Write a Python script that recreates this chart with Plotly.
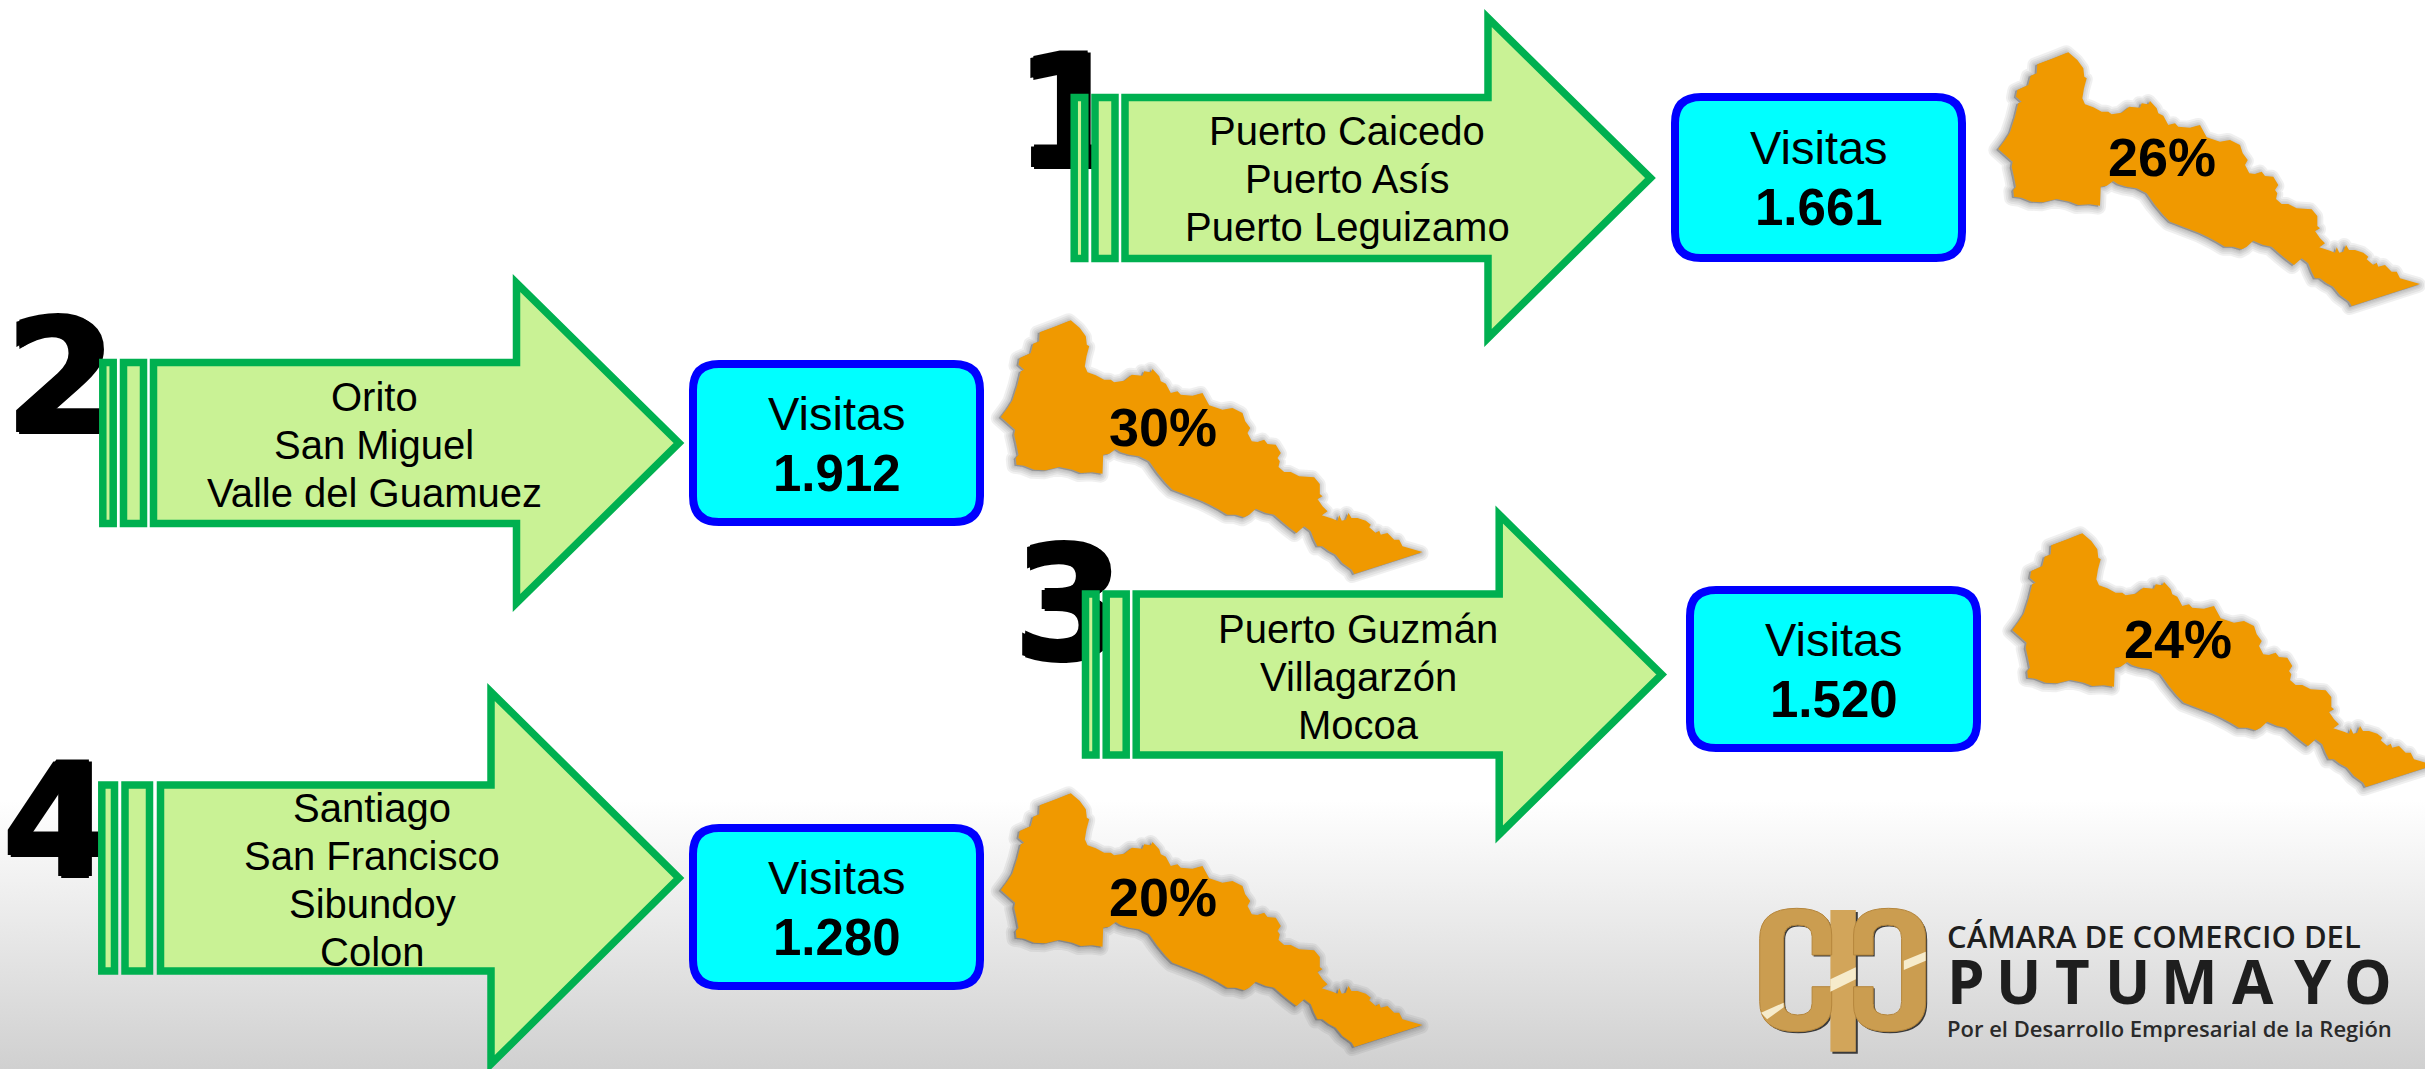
import plotly.graph_objects as go

# ---------- data ----------
ranks = ["1", "2", "3", "4"]
municipios = [
    ["Puerto Caicedo", "Puerto Asís", "Puerto Leguizamo"],
    ["Orito", "San Miguel", "Valle del Guamuez"],
    ["Puerto Guzmán", "Villagarzón", "Mocoa"],
    ["Santiago", "San Francisco", "Sibundoy", "Colon"],
]
visitas = [1661, 1912, 1520, 1280]
porcentajes = [26, 30, 24, 20]
logo_line1 = "CÁMARA DE COMERCIO DEL"
logo_word = "PUTUMAYO"
logo_line3 = "Por el Desarrollo Empresarial de la Región"

# ---------- layout of the diagram (pixels) ----------
W, H = 2425, 1069
GREEN, LIGHT, BLUE, CYAN, ORANGE = "#00B050", "#C9F295", "#0000FF", "#00FFFF", "#F09900"
FONT = "Liberation Sans"

# x0, mid y, shaft half, head half, neck offset, tip offset, strip1, strip2, body
ARROWS = [
    (1070.5, 178, 80.5, 160, 417.5, 580, (3.75, 14.25), (24.5, 44.5), 54.5),
    (99, 443, 80.5, 160, 417.5, 580, (3.75, 14.25), (24.5, 44.5), 54.5),
    (1081.7, 674.5, 80.5, 160, 417.5, 580, (3.75, 14.25), (24.5, 44.5), 54.5),
    (98, 878, 93, 186, 393, 581, (3.75, 16.5), (27, 51.5), 62.5),
]
ARROW_TEXT_X = [1347, 374, 1358, 372]
ARROW_TEXT_Y0 = [131, 397, 629, 808]
BOXES = [(1675, 97, 1962, 258), (693, 364, 980, 522), (1690, 590, 1977, 748), (693, 828, 980, 986)]
MAP_OFFSETS = [(0, 0), (-997.5, 268), (14, 481), (-997.5, 741)]
PCT_POS = [(2162, 157), (1163, 427), (2178, 639), (1163, 897)]
DIGIT_POS = [(1070, 128), (61, 393), (1069, 620), (58, 837)]

# outline of the department silhouette
outline_head = [(235,22),(262,45),(280,70),(283,95),(290,100),(282,130),(277,160),(285,178),(310,187),(335,200),
    (355,200),(365,208),(395,203),(418,185),(450,188),(455,175),(475,178),(480,168),(500,190),(505,205),(520,212),
    (535,240),(555,235),(565,245),(600,248),(630,240)]
outline_tail = [(20,22),(60,35),(90,30),(120,45),(128,70),(143,90),(135,105),(148,130),(165,132),(185,125),(195,138),
    (220,140),(235,165),(225,180),(232,190),(228,207),(245,222),(265,222),(290,235),(335,238),(352,258),(352,288),
    (360,295),(345,303),(360,325),(375,340),(358,352),(390,362),(405,368),(410,352),(418,368),(430,365),(438,345),
    (447,360),(465,360),(490,368),(505,380),(500,388),(520,405),(530,398),(535,410),(555,405),(575,425),(590,425),
    (600,445),(660,462),(455,528),(448,515),(420,495),(400,470),(380,460),(360,445),(345,445),(335,425),(325,400),
    (305,385),(282,405),(262,390),(240,372),(215,350),(190,345),(160,332),(140,350),(125,358),(100,350),(75,350),
    (50,335),(25,322),(0,310)]
outline_back = [(540,530),(520,510),(495,480),(470,445),(440,430),(410,425),(385,418),(370,408),(350,422),(332,425),
    (330,482),(300,478),(265,480),(240,470),(200,462),(160,472),(125,470),(95,458),(72,455),(70,435),(78,425),(72,395),
    (65,365),(68,350),(25,312),(45,285),(60,262),(75,215),(85,175),(95,170),(78,155),(82,135),(115,120),(122,92),
    (140,85),(142,58),(190,40)]
map_pts = ([(1990 + x / 3, 45 + y / 3) for x, y in outline_head]
           + [(2200 + x / 3, 130 + y / 3) for x, y in outline_tail]
           + [(1990 + x / 3, 45 + y / 3) for x, y in outline_back])

shapes = []


def poly(pts, dx=0, dy=0):
    return "M" + " L".join(f"{x + dx:.1f},{y + dy:.1f}" for x, y in pts) + " Z"


def add(path, fill, line=None, width=0):
    shapes.append(dict(type="path", path=path, fillcolor=fill, layer="above",
                       line=dict(color=line or "rgba(0,0,0,0)", width=width)))


# maps with a soft shadow
SHADOW = "rgba(60,60,60,0.08)"
for dx, dy in MAP_OFFSETS:
    for w in (16, 12, 8, 5, 2):
        add(poly(map_pts, dx - 2, dy + 1), SHADOW, SHADOW, w)
    add(poly(map_pts, dx, dy), ORANGE)

# arrows
for x0, my, sh, hh, nk, tp, s1, s2, bd in ARROWS:
    for a, b in (s1, s2):
        add(poly([(x0 + a, my - sh), (x0 + b, my - sh), (x0 + b, my + sh), (x0 + a, my + sh)]), LIGHT, GREEN, 7.5)
    add(poly([(x0 + bd, my - sh), (x0 + nk, my - sh), (x0 + nk, my - hh), (x0 + tp, my),
              (x0 + nk, my + hh), (x0 + nk, my + sh), (x0 + bd, my + sh)]), LIGHT, GREEN, 7.5)

# rounded boxes
R = 26
for x0, y0, x1, y1 in BOXES:
    add(f"M{x0 + R},{y0} L{x1 - R},{y0} Q{x1},{y0} {x1},{y0 + R} L{x1},{y1 - R} Q{x1},{y1} {x1 - R},{y1} "
        f"L{x0 + R},{y1} Q{x0},{y1} {x0},{y1 - R} L{x0},{y0 + R} Q{x0},{y0} {x0 + R},{y0} Z", CYAN, BLUE, 8)


def lx(v):
    return 1740 + v / 2.289


def ly(v):
    return 890 + v / 3


C_SEGS = [("M",165,195),("L",210,195),("L",210,135),("Q",210,55,130,55),("Q",45,55,45,145),("L",45,335),
          ("Q",45,425,130,425),("Q",210,425,210,345),("L",210,290),("L",165,290),("L",165,340),
          ("Q",165,375,132,375),("Q",100,375,100,335),("L",100,145),("Q",100,105,132,105),("Q",165,105,165,140)]


def c_path(mirror, off=0.0):
    parts = []
    for s in C_SEGS:
        nums = list(s[1:])
        vals = []
        for i in range(0, len(nums), 2):
            xv = 470 - nums[i] if mirror else nums[i]
            vals.append(f"{lx(xv) + off:.1f},{ly(nums[i + 1]) + off:.1f}")
        parts.append(s[0] + " ".join(vals))
    return " ".join(parts) + " Z"


GOLD, DARK = "#CB9D50", "#3A3A3A"
bar = [(lx(207), ly(60)), (lx(265), ly(60)), (lx(265), ly(485)), (lx(207), ly(485))]
for mirror in (False, True):
    add(c_path(mirror, 1.5), DARK)
add(poly(bar, 2, 2), DARK)
add(poly(bar), "#D2A55A")
for mirror in (False, True):
    add(c_path(mirror), GOLD, "#B5863C", 1)
for hl in ([(207,268),(265,232),(265,268),(207,305)], [(375,212),(425,185),(425,212),(375,240)],
           [(48,368),(100,338),(100,352),(62,388)]):
    add(poly([(lx(a), ly(b)) for a, b in hl]), "#F6EBCB")

# ---------- texts ----------
annotations = []


def text(x, y, s, size, family=FONT, weight=400, color="#000000", anchor="center"):
    annotations.append(dict(x=x, y=y, xref="x", yref="y", text=s, showarrow=False, xanchor=anchor, yanchor="middle",
                            font=dict(family=family, size=size, color=color, weight=weight)))


for names, tx, ty0 in zip(municipios, ARROW_TEXT_X, ARROW_TEXT_Y0):
    for i, name in enumerate(names):
        text(tx, ty0 + i * 48, name, 40)

for v, (x0, y0, x1, y1) in zip(visitas, BOXES):
    cx, cy = (x0 + x1) / 2, (y0 + y1) / 2
    text(cx, cy - 30, "Visitas", 47)
    text(cx, cy + 30, f"{v:,}".replace(",", "."), 51, weight=700)

for p, (x, y) in zip(porcentajes, PCT_POS):
    text(x, y, f"{p}%", 54, weight=700)

LOGO_FONT = "Open Sans"
LOGO_INK = "#1E1E1E"
text(lx(470), ly(138), logo_line1, 31, LOGO_FONT, 600, LOGO_INK, "left")
for ch, c in zip(logo_word, [518, 638, 762, 888, 1030, 1175, 1312, 1438]):
    text(lx(c), ly(272), ch, 60, LOGO_FONT, 700, LOGO_INK)
text(lx(470), ly(415), logo_line3, 22, LOGO_FONT, 600, "#2A2A2A", "left")

# ---------- figure ----------
fig = go.Figure()
fig.add_trace(go.Scatter(
    x=[0, W, W, 0, 0], y=[800, 800, H, H, 800], mode="lines", line=dict(width=0), fill="toself",
    fillgradient=dict(type="vertical", colorscale=[[0, "#D0D0D0"], [1, "#FFFFFF"]]), hoverinfo="skip", showlegend=False))
fig.add_trace(go.Scatter(
    x=[p[0] for p in DIGIT_POS], y=[p[1] for p in DIGIT_POS], mode="text", text=ranks, textposition="middle center",
    textfont=dict(family="DejaVu Sans", size=156, color="#000000", weight=700,
                  shadow="3px 0 0 #000, -3px 0 0 #000, 0 2px 0 #000, 0 -2px 0 #000"),
    hoverinfo="skip", showlegend=False))

fig.update_layout(
    width=W, height=H, margin=dict(l=0, r=0, t=0, b=0), paper_bgcolor="#FFFFFF", plot_bgcolor="rgba(0,0,0,0)",
    xaxis=dict(range=[0, W], visible=False, fixedrange=True),
    yaxis=dict(range=[H, 0], visible=False, fixedrange=True),
    shapes=shapes, annotations=annotations, showlegend=False)

ROUND_SHADOWS = ("document.querySelectorAll('.shapelayer path').forEach(function(p){"
                 "if((p.style.stroke||'').indexOf('60, 60, 60')>=0){p.style.strokeLinejoin='round';}});")
fig.write_html("out.html", config=dict(displayModeBar=False),
               post_script="document.body.style.margin='0';document.body.style.overflow='hidden';" + ROUND_SHADOWS)
